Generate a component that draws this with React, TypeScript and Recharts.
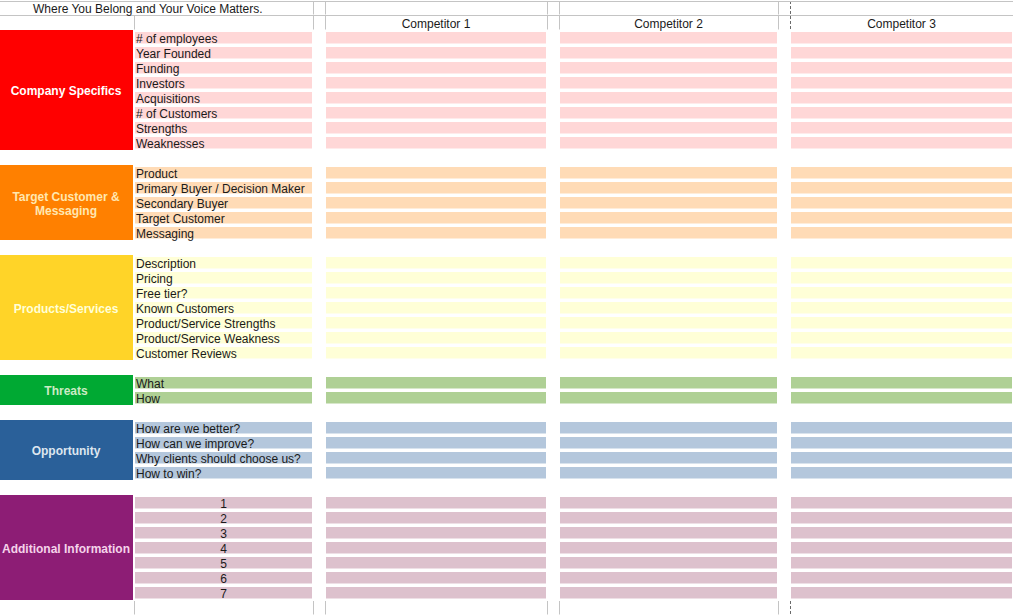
import React from 'react';
import { BarChart, Bar, XAxis, YAxis, ReferenceArea, LabelList, Label } from 'recharts';

const CHART_W = 1016;
const CHART_H = 615;
const FONT = '"Liberation Sans", Arial, sans-serif';

const title = 'Where You Belong and Your Voice Matters.';
const competitors = ['Competitor 1', 'Competitor 2', 'Competitor 3'];

const sectionLines = [
  ['Company Specifics'],
  ['Target Customer &', 'Messaging'],
  ['Products/Services'],
  ['Threats'],
  ['Opportunity'],
  ['Additional Information'],
];
const companyItems = ['# of employees', 'Year Founded', 'Funding', 'Investors', 'Acquisitions', '# of Customers', 'Strengths', 'Weaknesses'];
const targetItems = ['Product', 'Primary Buyer / Decision Maker', 'Secondary Buyer', 'Target Customer', 'Messaging'];
const productItems = ['Description', 'Pricing', 'Free tier?', 'Known Customers', 'Product/Service Strengths', 'Product/Service Weakness', 'Customer Reviews'];
const threatItems = ['What', 'How'];
const opportunityItems = ['How are we better?', 'How can we improve?', 'Why clients should choose us?', 'How to win?'];
const additionalItems = ['1', '2', '3', '4', '5', '6', '7'];
const sectionItems = [companyItems, targetItems, productItems, threatItems, opportunityItems, additionalItems];
const centredSections = [false, false, false, false, false, true];

const sectionColors = ['#ff0000', '#ff8000', '#ffd428', '#00a933', '#2a6099', '#8d1d75'];
const sectionTextColors = ['#ffffff', '#ffe7b0', '#ffffd7', '#ccebc4', '#dee6ef', '#f5d3ea'];
const cellColors = ['#ffd7d7', '#ffdbb6', '#ffffd7', '#afd095', '#b4c7dc', '#ddc1cd'];

const columnKeys = ['colA', 'colB', 'colC', 'colD', 'colE', 'colF', 'colG', 'colH'];
const columnWidths = [134, 179, 12, 222, 12, 219, 12, 223];
const inputColumns = [1, 3, 5, 7];
const headerColumns = [3, 5, 7];
const pageBreakColumn = 7;

type Row = { [k: string]: any };
const rows: Row[] = [];
const sectionSpans: { start: string; end: string }[] = [];

const addRow = (r: Row) => {
  const row: Row = { key: 'r' + rows.length, ...r };
  columnKeys.forEach((k, i) => (row[k] = columnWidths[i]));
  rows.push(row);
  return row.key as string;
};

addRow({ kind: 'title', title });
const headerRow: Row = { kind: 'header' };
headerColumns.forEach((c, i) => (headerRow['head' + c] = competitors[i]));
addRow(headerRow);
sectionItems.forEach((items, s) => {
  if (s > 0) addRow({ kind: 'blank' });
  let start = '';
  let end = '';
  items.forEach((item, j) => {
    const key = addRow({
      kind: 'cell',
      cellColor: cellColors[s],
      labelLeft: centredSections[s] ? undefined : item,
      labelCenter: centredSections[s] ? item : undefined,
    });
    if (j === 0) start = key;
    end = key;
  });
  sectionSpans.push({ start, end });
});
addRow({ kind: 'bottom' });

const GRID = '#c4c4c4';
const TEXT = '#1a1a1a';
const BASELINE = 5.2;

function makeShape(col: number) {
  return (p: any) => {
    const { x, y, width, height, payload } = p;
    const kind = payload && payload.kind;
    if (kind === 'cell') {
      if (!inputColumns.includes(col)) return <g />;
      return <rect x={x + 1} y={y + 1} width={width - 2} height={height - 2} fill={payload.cellColor} />;
    }
    const els: any[] = [];
    const vx = Math.round(x) + 0.5;
    const dashed = col === pageBreakColumn;
    const vertical =
      (kind === 'title' && col >= 2) || ((kind === 'header' || kind === 'bottom') && col >= 1);
    if (vertical) {
      els.push(
        <line
          key="v"
          x1={vx}
          x2={vx}
          y1={y}
          y2={y + height}
          stroke={dashed ? '#6a6a6a' : GRID}
          strokeWidth={1}
          strokeDasharray={dashed ? '3 2' : undefined}
        />
      );
    }
    if (kind === 'title') {
      els.push(<line key="t" x1={x} x2={x + width} y1={Math.round(y) + 0.5} y2={Math.round(y) + 0.5} stroke={GRID} />);
      els.push(
        <line key="b" x1={x} x2={x + width} y1={Math.round(y + height) + 0.5} y2={Math.round(y + height) + 0.5} stroke={GRID} />
      );
    }
    return <g>{els}</g>;
  };
}

function leftText(offset: number) {
  return (p: any) => {
    if (p.value == null || p.value === '') return null;
    return (
      <text x={p.x + offset} y={p.y + p.height / 2 + BASELINE} textAnchor="start" fill={TEXT} fontSize={12} fontFamily={FONT}>
        {p.value}
      </text>
    );
  };
}

function centerText(p: any) {
  if (p.value == null || p.value === '') return null;
  return (
    <text x={p.x + p.width / 2} y={p.y + p.height / 2 + BASELINE} textAnchor="middle" fill={TEXT} fontSize={12} fontFamily={FONT}>
      {p.value}
    </text>
  );
}

function sectionLabel(s: number) {
  return (props: any) => {
    const vb = props.viewBox || {};
    const cx = vb.x + vb.width / 2 - 0.5;
    const cy = vb.y + vb.height / 2;
    const lines = sectionLines[s];
    const lh = 14;
    return (
      <text
        x={cx}
        y={cy}
        textAnchor="middle"
        fill={sectionTextColors[s]}
        fontFamily={FONT}
        fontSize={12}
        fontWeight="bold"
      >
        {lines.map((ln, i) => (
          <tspan key={i} x={cx} y={cy + (i - (lines.length - 1) / 2) * lh + 5.3}>
            {ln}
          </tspan>
        ))}
      </text>
    );
  };
}

export default function App() {
  return (
    <div style={{ position: 'absolute', left: 0, top: 0, width: CHART_W, height: CHART_H, background: '#fff' }}>
      <BarChart
        width={CHART_W}
        height={CHART_H}
        data={rows}
        layout="vertical"
        margin={{ top: 0, right: 0, bottom: 0, left: 0 }}
        barCategoryGap={0}
        barGap={0}
      >
        <XAxis type="number" domain={[0, CHART_W]} hide allowDataOverflow />
        <YAxis type="category" dataKey="key" hide width={0} />
        {columnKeys.map((k, i) => (
          <Bar
            key={k}
            dataKey={k}
            stackId="grid"
            barSize={15}
            isAnimationActive={false}
            shape={makeShape(i)}
          >
            {i === 0 && <LabelList dataKey="title" content={leftText(33)} />}
            {i === 1 && <LabelList dataKey="labelLeft" content={leftText(2)} />}
            {i === 1 && <LabelList dataKey="labelCenter" content={centerText} />}
            {headerColumns.includes(i) && <LabelList dataKey={'head' + i} content={centerText} />}
          </Bar>
        ))}
        {sectionSpans.map((sp, s) => (
          <ReferenceArea
            key={s}
            x1={0}
            x2={columnWidths[0] - 1}
            y1={sp.start}
            y2={sp.end}
            fill={sectionColors[s]}
            fillOpacity={1}
            stroke="none"
            ifOverflow="visible"
            label={<Label content={sectionLabel(s)} />}
          />
        ))}
      </BarChart>
    </div>
  );
}
